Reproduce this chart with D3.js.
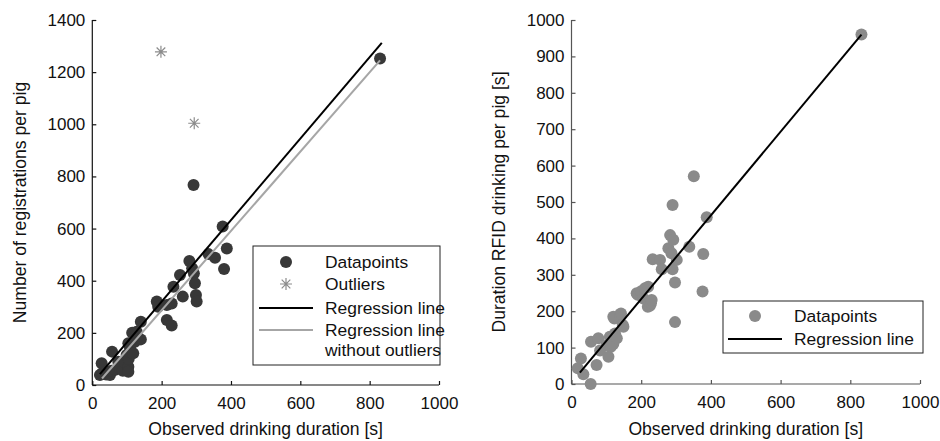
<!DOCTYPE html>
<html>
<head>
<meta charset="utf-8">
<script src="https://cdn.jsdelivr.net/npm/d3@7"></script>
<style>
  body { margin: 0; background: #fff; }
  svg { font-family: "Liberation Sans", Arial, sans-serif; }
  .axis text { font-size: 17px; fill: #111; }
  .axis path, .axis line { stroke: #111; stroke-width: 1.2; }
  .grey-axis path, .grey-axis line { stroke: #555; }
  .title { font-size: 17.6px; fill: #111; }
  .legend text { font-size: 17.4px; fill: #111; }
</style>
</head>
<body>
<div id="chart"></div>
<script>
// ---- data ----
var xTicks = [0, 200, 400, 600, 800, 1000];
var leftYTicks = [0, 200, 400, 600, 800, 1000, 1200, 1400];
var rightYTicks = [0, 100, 200, 300, 400, 500, 600, 700, 800, 900, 1000];

// [observed duration, registrations]
var leftPoints = [
  [22, 38], [28, 45], [27, 83], [40, 40], [51, 38], [55, 55], [57, 128], [66, 58],
  [75, 89], [80, 64], [88, 55], [95, 85], [99, 115], [104, 70], [104, 51], [105, 100],
  [109, 140], [104, 160], [110, 125], [118, 122], [123, 166], [128, 204], [115, 200],
  [140, 243], [140, 175], [186, 320], [190, 300], [215, 307], [229, 313], [215, 249],
  [229, 228], [234, 377], [253, 422], [261, 339], [280, 476], [288, 448], [293, 428],
  [296, 390], [299, 345], [301, 320], [292, 767], [335, 502], [354, 488], [376, 608],
  [388, 524], [380, 445], [830, 1252]
];
var leftOutliers = [[198, 1278], [294, 1004]];
var leftRegression = [[22, 42], [835, 1312]];
var leftRegressionNoOutliers = [[28, 25], [830, 1245]];

// [observed duration, RFID drinking duration]
var rightPoints = [
  [18, 43], [27, 70], [34, 27], [55, 0], [56, 116], [72, 52], [77, 126], [82, 92],
  [101, 107], [106, 75], [110, 130], [113, 102], [120, 110], [125, 139], [130, 126],
  [123, 180], [120, 185], [139, 190], [142, 194], [147, 162], [149, 157], [187, 249],
  [190, 245], [200, 255], [206, 235], [211, 263], [220, 267], [219, 212], [225, 215],
  [228, 222], [230, 231], [233, 343], [254, 341], [259, 315], [278, 373], [283, 409],
  [287, 359], [290, 315], [290, 492], [292, 396], [297, 279], [297, 170], [302, 341],
  [338, 377], [351, 571], [378, 357], [376, 254], [388, 458], [832, 960]
];
var rightRegression = [[24, 31], [832, 960]];

var svg = d3.select("#chart").append("svg")
  .attr("width", 940)
  .attr("height", 441);

/*
 *  one scatter panel
 */
function drawPanel(opts) {
  var g = svg.append("g");

  var x = d3.scaleLinear().domain([0, 1000]).range([opts.left, opts.right]);
  var y = d3.scaleLinear().domain([0, opts.yMax]).range([opts.bottom, opts.top]);

  // axes, ticks pointing inwards
  g.append("g")
    .attr("class", "axis " + (opts.axisClass || ""))
    .attr("transform", "translate(0," + opts.bottom + ")")
    .call(d3.axisBottom(x).tickValues(xTicks).tickFormat(d3.format("d"))
      .tickSizeInner(-4).tickSizeOuter(0).tickPadding(12))
    .call(function (a) { a.select(".domain").attr("d", "M" + opts.left + ",0H" + opts.right); });

  g.append("g")
    .attr("class", "axis " + (opts.axisClass || ""))
    .attr("transform", "translate(" + opts.left + ",0)")
    .call(d3.axisLeft(y).tickValues(opts.yTicks).tickFormat(d3.format("d"))
      .tickSizeInner(-4).tickSizeOuter(0).tickPadding(7))
    .call(function (a) { a.select(".domain").attr("d", "M0," + opts.top + "V" + opts.bottom); });

  g.append("text")
    .attr("class", "title")
    .attr("x", (opts.left + opts.right) / 2)
    .attr("y", 435)
    .attr("text-anchor", "middle")
    .text("Observed drinking duration [s]");

  g.append("text")
    .attr("class", "title")
    .attr("transform", "translate(" + opts.yTitleX + "," + (opts.top + opts.bottom) / 2 + ") rotate(-90)")
    .attr("text-anchor", "middle")
    .text(opts.yTitle);

  var line = d3.line().x(function (d) { return x(d[0]); }).y(function (d) { return y(d[1]); });

  g.selectAll(".dot")
    .data(opts.points)
    .enter().append("circle")
    .attr("class", "dot")
    .attr("cx", function (d) { return x(d[0]); })
    .attr("cy", function (d) { return y(d[1]); })
    .attr("r", 6)
    .attr("fill", opts.dotColor);

  if (opts.outliers) {
    g.selectAll(".outlier")
      .data(opts.outliers)
      .enter().append("path")
      .attr("class", "outlier")
      .attr("transform", function (d) { return "translate(" + x(d[0]) + "," + y(d[1]) + ")"; })
      .attr("d", asterisk(6))
      .attr("stroke", "#8c8c8c")
      .attr("stroke-width", 1.2)
      .attr("fill", "none");
  }

  if (opts.regression2) {
    g.append("path")
      .datum(opts.regression2)
      .attr("d", line)
      .attr("stroke", "#a6a6a6")
      .attr("stroke-width", 2)
      .attr("fill", "none");
  }

  g.append("path")
    .datum(opts.regression)
    .attr("d", line)
    .attr("stroke", "#000")
    .attr("stroke-width", 2)
    .attr("fill", "none");

  return g;
}

function asterisk(r) {
  var d = r * 0.72;
  return "M" + (-r) + ",0H" + r + "M0," + (-r) + "V" + r +
    "M" + (-d) + "," + (-d) + "L" + d + "," + d +
    "M" + (-d) + "," + d + "L" + d + "," + (-d);
}

// legend helper: rows of {label, kind}
function drawLegend(box, rows) {
  var lg = svg.append("g").attr("class", "legend");
  lg.append("rect")
    .attr("x", box.x).attr("y", box.y)
    .attr("width", box.w).attr("height", box.h)
    .attr("fill", "#fff").attr("stroke", "#222").attr("stroke-width", 1);

  rows.forEach(function (r) {
    var cx = box.x + box.symX;
    if (r.kind === "dot") {
      lg.append("circle").attr("cx", cx).attr("cy", r.y).attr("r", 6).attr("fill", r.color);
    } else if (r.kind === "star") {
      lg.append("path").attr("transform", "translate(" + cx + "," + r.y + ")")
        .attr("d", asterisk(6)).attr("stroke", "#8c8c8c").attr("stroke-width", 1.2).attr("fill", "none");
    } else if (r.kind === "line") {
      lg.append("line").attr("x1", cx - 27).attr("x2", cx + 27).attr("y1", r.y).attr("y2", r.y)
        .attr("stroke", r.color).attr("stroke-width", 2);
    }
    r.text.forEach(function (t, i) {
      lg.append("text").attr("x", box.x + box.textX).attr("y", r.y + 6 + i * 20).text(t);
    });
  });
}

drawPanel({
  left: 92.3, right: 439, top: 20, bottom: 385, yMax: 1400,
  yTicks: leftYTicks, points: leftPoints, outliers: leftOutliers,
  regression: leftRegression, regression2: leftRegressionNoOutliers,
  dotColor: "#383838", yTitle: "Number of registrations per pig", yTitleX: 26
});

drawPanel({
  left: 571.5, right: 920, top: 20, bottom: 384, yMax: 1000,
  yTicks: rightYTicks, points: rightPoints,
  regression: rightRegression, axisClass: "grey-axis",
  dotColor: "#8a8a8a", yTitle: "Duration RFID drinking per pig [s]", yTitleX: 505
});

drawLegend({x: 253, y: 246, w: 187, h: 119, symX: 33, textX: 72}, [
  {kind: "dot", color: "#383838", y: 262, text: ["Datapoints"]},
  {kind: "star", y: 284, text: ["Outliers"]},
  {kind: "line", color: "#000", y: 308, text: ["Regression line"]},
  {kind: "line", color: "#a6a6a6", y: 330, text: ["Regression line", "without outliers"]}
]);

drawLegend({x: 723, y: 301, w: 200, h: 52, symX: 32, textX: 71}, [
  {kind: "dot", color: "#8a8a8a", y: 316, text: ["Datapoints"]},
  {kind: "line", color: "#000", y: 339, text: ["Regression line"]}
]);
</script>
</body>
</html>
